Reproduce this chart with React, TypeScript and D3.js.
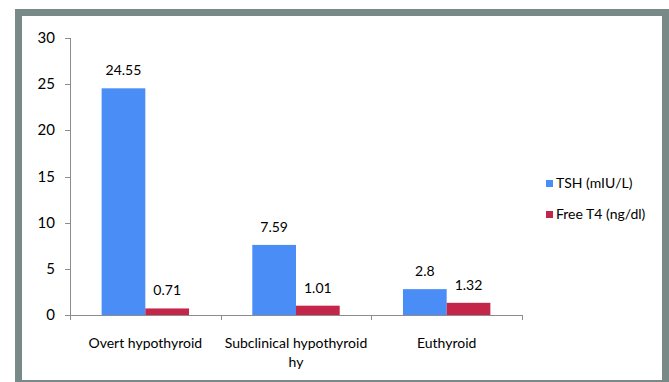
import React from "react";
import * as d3 from "d3";

const categories = ["Overt hypothyroid", "Subclinical hypothyroid", "Euthyroid"];
const categoryLines = [["Overt hypothyroid"], ["Subclinical hypothyroid", "hy"], ["Euthyroid"]];
const seriesNames = ["TSH (mIU/L)", "Free T4 (ng/dl)"];
const tshValues = [24.55, 7.59, 2.8];
const freeT4Values = [0.71, 1.01, 1.32];
const valueLabels = [["24.55", "7.59", "2.8"], ["0.71", "1.01", "1.32"]];
const yTicks = [0, 5, 10, 15, 20, 25, 30];

const colors = ["#4a8df6", "#c4264a"];
const FONT = "Lato, 'Open Sans', sans-serif";

export default function App() {
  const W = 669, H = 382;
  const left = 70, right = 522, top = 38, bottom = 315;
  const x = d3.scaleBand().domain(categories).range([left, right]).padding(0);
  const xs = d3.scaleBand().domain(seriesNames).range([0, x.bandwidth()]).paddingInner(0).paddingOuter(0.724);
  const y = d3.scaleLinear().domain([0, 30]).range([bottom, top]);
  const series = [tshValues, freeT4Values];
  const axisColor = "#8c8c8c";

  return (
    <svg width={W} height={H} style={{ position: "absolute", left: 0, top: 0, background: "#fff" }}>
      <rect x={0} y={0} width={W} height={H} fill="#fff" />
      <rect x={18.5} y={12.5} width={647} height={371} fill="#fff" stroke="#778a87" strokeWidth={7} />
      {series.map((vals, si) =>
        vals.map((v, ci) => {
          const bx = (x(categories[ci]) as number) + (xs(seriesNames[si]) as number);
          return (
            <rect key={`b${si}-${ci}`} x={bx} y={y(v)} width={xs.bandwidth()} height={bottom - y(v)} fill={colors[si]} />
          );
        })
      )}
      {series.map((vals, si) =>
        vals.map((v, ci) => {
          const bx = (x(categories[ci]) as number) + (xs(seriesNames[si]) as number) + xs.bandwidth() / 2;
          return (
            <text key={`v${si}-${ci}`} x={bx} y={y(v) - 13} textAnchor="middle" fontFamily={FONT} fontSize={14} fill="#000">
              {valueLabels[si][ci]}
            </text>
          );
        })
      )}
      <line x1={left + 0.5} x2={left + 0.5} y1={top} y2={bottom} stroke={axisColor} />
      {yTicks.map((t) => (
        <g key={`yt${t}`}>
          <line x1={left - 5} x2={left} y1={Math.round(y(t)) + 0.5} y2={Math.round(y(t)) + 0.5} stroke={axisColor} />
          <text x={55} y={y(t) + 5} textAnchor="end" fontFamily={FONT} fontSize={15} fill="#000">
            {t}
          </text>
        </g>
      ))}
      <line x1={left - 5} x2={right} y1={bottom + 0.5} y2={bottom + 0.5} stroke={axisColor} />
      {[...categories.map((c) => x(c) as number), right].map((p, i) => (
        <line key={`xt${i}`} x1={Math.round(p) + 0.5} x2={Math.round(p) + 0.5} y1={bottom} y2={bottom + 5} stroke={axisColor} />
      ))}
      {categories.map((c, ci) =>
        categoryLines[ci].map((ln, li) => (
          <text key={`c${ci}-${li}`} x={(x(c) as number) + x.bandwidth() / 2} y={348 + li * 19} textAnchor="middle" fontFamily={FONT} fontSize={14} fill="#000">
            {ln}
          </text>
        ))
      )}
      {seriesNames.map((s, i) => (
        <g key={`lg${i}`}>
          <rect x={546} y={180 + i * 31} width={7} height={7} fill={colors[i]} />
          <text x={556} y={188 + i * 31} fontFamily={FONT} fontSize={14} fill="#000">
            {s}
          </text>
        </g>
      ))}
    </svg>
  );
}
